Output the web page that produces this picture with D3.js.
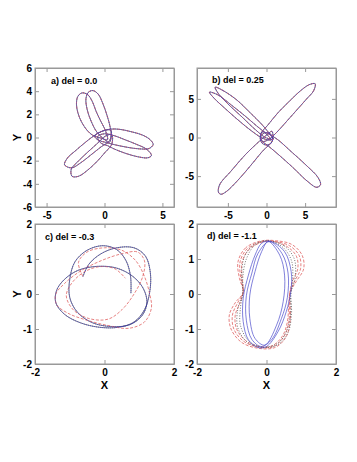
<!DOCTYPE html>
<html>
<head>
<meta charset="utf-8">
<script src="https://cdn.jsdelivr.net/npm/d3@7"></script>
<style>
  body { margin: 0; background: #fff; }
  svg { display: block; }
  .frame { fill: none; stroke: #999; stroke-width: 1; }
  .title { font-family: "Liberation Sans", Arial, sans-serif; font-weight: bold; font-size: 9px; }
  .axis text { font-family: "Liberation Sans", Arial, sans-serif; font-weight: bold; font-size: 10px; fill: #000; }
  .axis path, .axis line { stroke: #999; }
  .lab { font-family: "Liberation Sans", Arial, sans-serif; font-weight: bold; font-size: 11px; }
</style>
</head>
<body>
<div id="chartArea"></div>
<script>
// panel a) del = 0.0 : six petal loops (same orbit for all three runs)
let aLoops = [
  [[-1.94,3.85],[-1.45,3.7],[-1.05,3.1],[-0.72,2.25],[-0.32,1.4],[0.08,0.6],[0.25,-0.2],[-0.3,-0.05],[-1.0,0.18],[-1.5,0.62],[-2.0,1.38],[-2.3,2.15],[-2.42,2.9],[-2.3,3.55]],
  [[-1.0,4.05],[-0.55,3.75],[-0.15,2.95],[0.22,1.9],[0.48,0.94],[0.58,0.14],[0.42,-0.42],[-0.15,-0.05],[-0.68,0.5],[-1.15,1.4],[-1.5,2.43],[-1.6,3.35],[-1.4,3.9]],
  [[4.2,-0.6],[3.95,-0.2],[3.3,0.2],[2.3,0.5],[1.34,0.7],[0.49,0.72],[-0.3,0.5],[-0.85,0.12],[-0.55,-0.22],[0.1,-0.42],[0.86,-0.62],[2.0,-0.85],[3.0,-0.98],[3.85,-0.95]],
  [[4.05,-1.55],[3.65,-1.02],[2.71,-0.57],[1.71,-0.17],[0.86,0.15],[0,0.32],[-0.58,0.1],[-0.35,-0.45],[0.3,-0.72],[0.86,-1.0],[1.86,-1.38],[2.86,-1.66],[3.75,-1.75]],
  [[-3.45,-2.35],[-3.18,-1.75],[-2.55,-1.18],[-1.75,-0.5],[-0.89,0.16],[-0.1,0.58],[0.55,0.62],[0.45,-0.25],[-0.31,-0.82],[-1.17,-1.5],[-2.02,-2.16],[-2.85,-2.62]],
  [[-2.8,-3.35],[-2.87,-2.74],[-2.3,-2.08],[-1.5,-1.31],[-0.65,-0.54],[0.08,0.12],[0.62,0.25],[0.62,-0.6],[0.07,-1.26],[-0.61,-2.03],[-1.41,-2.78],[-2.25,-3.35]]
];

// panel b) del = 0.25 : four petals + small central loop
let bLoops = [
  [[6.3,6.96],[6.1,6.05],[5.2,5.0],[3.92,3.56],[2.6,2.08],[1.35,0.7],[0.3,-0.25],[-0.5,-0.5],[-0.75,0.4],[0.25,1.7],[1.53,3.25],[3.05,4.78],[4.4,6.05],[5.55,6.85]],
  [[7.0,-6.1],[6.5,-6.45],[5.3,-5.67],[3.4,-3.87],[1.5,-2.17],[0.05,-0.95],[-0.75,-0.3],[-0.6,0.7],[1.1,-0.03],[3.2,-1.83],[5.2,-3.65],[6.65,-5.15]],
  [[-6.22,-7.09],[-6.07,-6.12],[-4.55,-4.3],[-2.81,-2.3],[-1.29,-0.82],[0.05,0.35],[0.7,0.8],[0.75,-0.45],[-0.45,-1.7],[-1.97,-3.53],[-3.58,-5.4],[-5.2,-7.0],[-5.9,-7.35]],
  [[-7.39,5.87],[-6.3,5.52],[-4.57,4.22],[-2.83,2.83],[-1.3,1.52],[0,0.43],[0.57,-0.3],[-0.43,-0.13],[-1.8,0.75],[-3.6,2.2],[-5.3,3.7],[-6.8,5.1]],
  [[-6.65,6.52],[-5.65,6.09],[-3.91,4.91],[-2.17,3.26],[-0.65,1.74],[0.43,0.43],[0.87,-0.22],[-0.13,0],[-1.52,1.09],[-3.26,2.74],[-5.0,4.35],[-6.3,5.78]],
  [[0,0.63],[0.57,0.4],[0.8,-0.17],[0.57,-0.74],[0,-0.97],[-0.57,-0.74],[-0.8,-0.17],[-0.57,0.4]]
];

// panel c) del = -0.3 : open orbits
let cBlackPath = [[-0.62,0.5],[-0.45,0.85],[-0.1,1.15],[0.35,1.32],[0.85,1.32],[1.18,1.08],[1.32,0.6],[1.3,0.05],[1.15,-0.45],[0.85,-0.8],[0.4,-0.95],[-0.15,-0.95],[-0.7,-0.82],[-1.15,-0.58],[-1.4,-0.25],[-1.38,0.1],[-1.15,0.42],[-0.75,0.68],[-0.2,0.79],[0.35,0.74],[0.82,0.5],[1.12,0.15],[1.22,-0.25],[1.08,-0.62],[0.72,-0.88],[0.2,-0.93],[-0.35,-0.82],[-0.78,-0.52],[-1.0,-0.1],[-1.0,0.42],[-0.85,0.92],[-0.5,1.25],[-0.05,1.38],[0.35,1.27],[0.62,0.95],[0.75,0.5],[0.76,0.02]];
let cRedPath = [[-0.62,0.5],[-0.75,0.9],[-0.5,1.2],[0.0,1.32],[0.5,1.25],[0.9,0.95],[1.15,0.5],[1.3,0.0],[1.35,-0.4],[1.15,-0.8],[0.7,-0.98],[0.1,-0.9],[-0.5,-0.75],[-1.05,-0.55],[-1.38,-0.3],[-1.4,0.0],[-1.15,0.3],[-0.7,0.65],[-0.1,0.95],[0.5,1.15],[0.95,1.2],[1.15,0.95],[1.1,0.5],[0.85,0.0],[0.5,-0.45],[0.1,-0.72],[-0.45,-0.7],[-0.9,-0.45],[-1.1,-0.05],[-0.95,0.3],[-0.6,0.62],[-0.15,0.78],[0.3,0.72],[0.6,0.45]];

// panel d) del = -1.1 : nested loops
let dBlueLoops = [
  [[0.1,1.51],[0.52,1.21],[0.71,0.64],[0.7,0.07],[0.57,-0.5],[0.33,-1.08],[0.0,-1.5],[-0.24,-1.53],[-0.52,-1.31],[-0.67,-0.79],[-0.67,-0.12],[-0.52,0.54],[-0.33,1.11],[-0.14,1.45]],
  [[0.08,1.5],[0.45,1.15],[0.62,0.6],[0.6,-0.1],[0.43,-0.7],[0.15,-1.3],[-0.15,-1.5],[-0.42,-1.3],[-0.58,-0.75],[-0.58,-0.05],[-0.42,0.6],[-0.25,1.15]],
  [[0.05,1.5],[0.38,1.11],[0.52,0.54],[0.48,-0.22],[0.29,-0.89],[-0.05,-1.46],[-0.33,-1.27],[-0.48,-0.7],[-0.48,-0.03],[-0.33,0.64],[-0.14,1.21]]
];
let dBlackLoops = [
  [[0.0,1.52],[0.45,1.35],[0.72,0.95],[0.75,0.4],[0.7,0.0],[0.7,-0.5],[0.6,-1.0],[0.33,-1.4],[-0.1,-1.52],[-0.5,-1.35],[-0.75,-0.9],[-0.75,-0.4],[-0.68,0.05],[-0.68,0.5],[-0.58,1.0],[-0.35,1.38]],
  [[0.0,1.52],[0.5,1.38],[0.8,1.0],[0.82,0.45],[0.7,0.02],[0.72,-0.55],[0.62,-1.1],[0.33,-1.45],[-0.1,-1.53],[-0.55,-1.38],[-0.83,-0.95],[-0.82,-0.4],[-0.68,0.02],[-0.72,0.5],[-0.64,1.05],[-0.38,1.4]]
];
let dRedLoops = [
  [[-0.14,1.52],[-0.6,1.32],[-0.82,0.92],[-0.78,0.45],[-0.67,0.05],[-0.9,-0.25],[-1.07,-0.6],[-1.02,-1.0],[-0.72,-1.38],[-0.24,-1.55],[0.24,-1.53],[0.55,-1.25],[0.68,-0.8],[0.68,-0.3],[0.67,0.02],[0.85,0.35],[1.07,0.72],[1.02,1.12],[0.72,1.42],[0.29,1.52]],
  [[-0.1,1.5],[-0.55,1.3],[-0.76,0.92],[-0.74,0.45],[-0.67,0.05],[-0.83,-0.25],[-0.98,-0.6],[-0.94,-1.0],[-0.66,-1.35],[-0.22,-1.52],[0.2,-1.5],[0.5,-1.22],[0.64,-0.8],[0.66,-0.3],[0.67,0.02],[0.8,0.35],[0.98,0.72],[0.94,1.1],[0.66,1.38],[0.25,1.5]],
  [[-0.06,1.5],[-0.5,1.28],[-0.7,0.92],[-0.7,0.45],[-0.67,0.05],[-0.76,-0.25],[-0.9,-0.6],[-0.86,-1.0],[-0.6,-1.33],[-0.2,-1.5],[0.16,-1.48],[0.46,-1.2],[0.6,-0.8],[0.64,-0.3],[0.67,0.02],[0.74,0.35],[0.9,0.72],[0.86,1.08],[0.6,1.35],[0.2,1.5]]
];

// ticks
let aXTicks = [-5, 0, 5], aYTicks = [-6, -4, -2, 0, 2, 4, 6];
let bXTicks = [-5, 0, 5], bYTicks = [-5, 0, 5];
let cdXTicks = [-2, 0, 2], cdYTicks = [-2, -1, 0, 1, 2];
let titles = ['a) del = 0.0', 'b) del = 0.25', 'c) del = -0.3', 'd) del = -1.1'];

let styles = {
  black: { stroke: '#000', width: 0.5, dash: null },
  red:   { stroke: '#e06262', width: 0.8, dash: '3,1.6' },
  blue:  { stroke: '#4040cc', width: 0.8, dash: '1,1' },
  blueSolid: { stroke: '#4a4acc', width: 0.7, dash: null },
  grayDot: { stroke: '#555', width: 0.8, dash: '1,1.6' }
};

let panels = [
  { x0: 35, y0: 68, w: 139, h: 139, xDom: [-6, 6], yDom: [-6, 6], xt: aXTicks, yt: aYTicks,
    title: titles[0], tx: 51, ty: 84, yLab: true, xLab: false,
    series: [{ loops: aLoops, st: 'black' }, { loops: aLoops, st: 'red' }, { loops: aLoops, st: 'blue' }] },
  { x0: 197, y0: 68, w: 139, h: 139, xDom: [-9, 9], yDom: [-9, 9], xt: bXTicks, yt: bYTicks,
    title: titles[1], tx: 212, ty: 83, yLab: false, xLab: false,
    series: [{ loops: bLoops, st: 'black' }, { loops: bLoops, st: 'red' }, { loops: bLoops, st: 'blue' }] },
  { x0: 35, y0: 224, w: 139, h: 140, xDom: [-2, 2], yDom: [-2, 2], xt: cdXTicks, yt: cdYTicks,
    title: titles[2], tx: 45, ty: 240, yLab: true, xLab: true,
    series: [{ path: cBlackPath, st: 'black' }, { path: cRedPath, st: 'red' }, { path: cBlackPath, st: 'blue' }] },
  { x0: 197, y0: 224, w: 139, h: 140, xDom: [-2, 2], yDom: [-2, 2], xt: cdXTicks, yt: cdYTicks,
    title: titles[3], tx: 207, ty: 239, yLab: false, xLab: true,
    series: [{ loops: dRedLoops, st: 'red' }, { loops: dBlackLoops, st: 'grayDot' }, { loops: dBlueLoops, st: 'blueSolid' }] }
];

let svg = d3.select('#chartArea').append('svg')
  .attr('width', 357)
  .attr('height', 462);

let fmt = d => String(d);

panels.forEach((p, i) => {
  let x = d3.scaleLinear().domain(p.xDom).range([p.x0, p.x0 + p.w]);
  let y = d3.scaleLinear().domain(p.yDom).range([p.y0 + p.h, p.y0]);

  svg.append('clipPath').attr('id', 'clip' + i)
    .append('rect').attr('x', p.x0).attr('y', p.y0).attr('width', p.w).attr('height', p.h);

  let g = svg.append('g').attr('clip-path', 'url(#clip' + i + ')');
  let closed = d3.line().x(d => x(d[0])).y(d => y(d[1])).curve(d3.curveCatmullRomClosed);
  let open = d3.line().x(d => x(d[0])).y(d => y(d[1])).curve(d3.curveCatmullRom);

  p.series.forEach(s => {
    let st = styles[s.st];
    let ds = s.loops ? s.loops.map(l => closed(l)) : [open(s.path)];
    g.selectAll(null).data(ds).enter().append('path')
      .attr('d', d => d)
      .attr('fill', 'none')
      .attr('stroke', st.stroke)
      .attr('stroke-width', st.width)
      .attr('stroke-dasharray', st.dash);
  });

  // axes, ticks pointing inwards on all four sides
  svg.append('g').attr('class', 'axis')
    .attr('transform', 'translate(0,' + (p.y0 + p.h) + ')')
    .call(d3.axisBottom(x).tickValues(p.xt).tickFormat(fmt).tickSizeInner(-4).tickSizeOuter(0).tickPadding(5));
  svg.append('g').attr('class', 'axis')
    .attr('transform', 'translate(0,' + p.y0 + ')')
    .call(d3.axisTop(x).tickValues(p.xt).tickFormat('').tickSizeInner(-4).tickSizeOuter(0));
  svg.append('g').attr('class', 'axis')
    .attr('transform', 'translate(' + p.x0 + ',0)')
    .call(d3.axisLeft(y).tickValues(p.yt).tickFormat(fmt).tickSizeInner(-4).tickSizeOuter(0).tickPadding(3));
  svg.append('g').attr('class', 'axis')
    .attr('transform', 'translate(' + (p.x0 + p.w) + ',0)')
    .call(d3.axisRight(y).tickValues(p.yt).tickFormat('').tickSizeInner(-4).tickSizeOuter(0));

  svg.selectAll('.axis text').attr('font-size', null).attr('font-family', null);
  svg.selectAll('.axis').attr('font-size', null).attr('font-family', null);

  svg.append('rect').attr('class', 'frame')
    .attr('x', p.x0).attr('y', p.y0).attr('width', p.w).attr('height', p.h);

  svg.append('text').attr('class', 'title')
    .attr('x', p.tx).attr('y', p.ty).text(p.title);

  if (p.yLab) {
    svg.append('text').attr('class', 'lab')
      .attr('transform', 'translate(21,' + (p.y0 + p.h / 2) + ') rotate(-90)')
      .attr('text-anchor', 'middle').text('Y');
  }
  if (p.xLab) {
    svg.append('text').attr('class', 'lab')
      .attr('x', p.x0 + p.w / 2).attr('y', 389)
      .attr('text-anchor', 'middle').text('X');
  }
});
</script>
</body>
</html>
